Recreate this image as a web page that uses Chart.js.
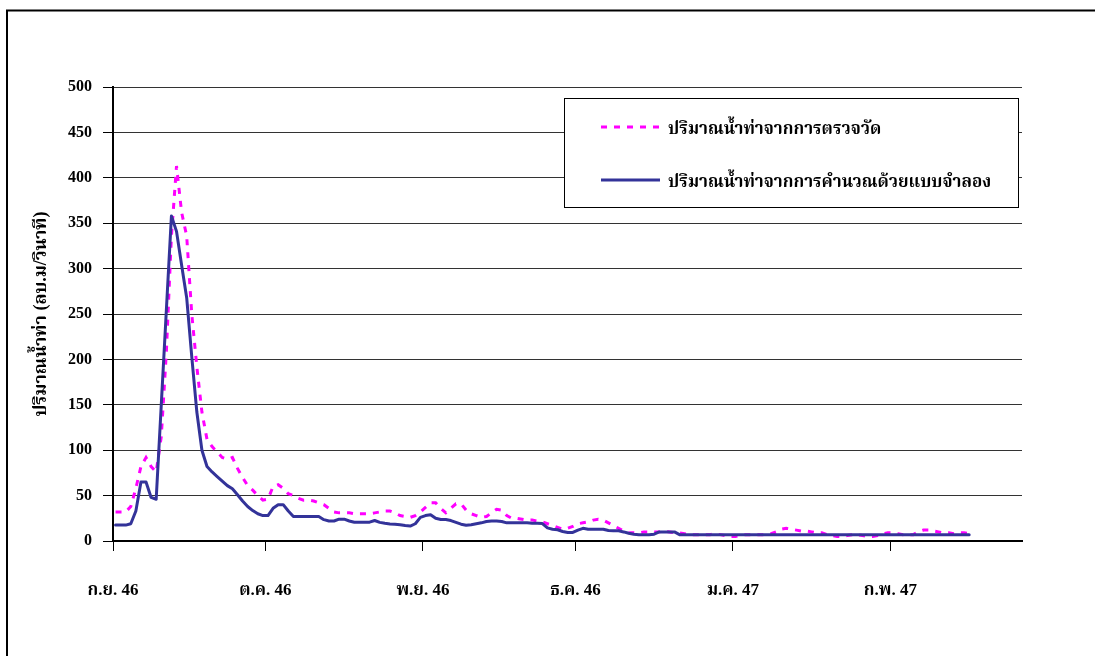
<!DOCTYPE html>
<html>
<head>
<meta charset="utf-8">
<script src="https://cdn.jsdelivr.net/npm/chart.js@4.4.1/dist/chart.umd.min.js"></script>
<style>
  html, body { margin: 0; padding: 0; background: #ffffff; }
  #wrap { width: 1095px; height: 656px; position: relative; }
</style>
</head>
<body>
<div id="wrap"><canvas id="chart" width="1095" height="656"></canvas></div>
<script>
// Month labels and the day index (from 1 Sep 2003) on which each month starts
const monthLabels = ['ก.ย. 46', 'ต.ค. 46', 'พ.ย. 46', 'ธ.ค. 46', 'ม.ค. 47', 'ก.พ. 47'];
const monthStartDay = [0, 30, 61, 91, 122, 153];

// Daily runoff (m3/s), 1 Sep 2003 - 16 Feb 2004
const observed = [
  32, 32, 32, 38, 58, 82, 92, 82, 76, 115,
  208, 336, 413, 362, 336, 250, 192, 142, 112, 104,
  98, 92, 90, 92, 80, 70, 61, 56, 50, 45,
  46, 60, 62, 58, 52, 50, 47, 45, 45, 44,
  42, 40, 36, 32, 31, 31, 31, 30, 30, 30,
  30, 31, 32, 33, 33, 31, 28, 27, 26, 28,
  32, 37, 42, 42, 36, 31, 36, 41, 41, 34,
  30, 28, 26, 27, 31, 35, 34, 28, 25, 25,
  24, 23, 23, 22, 21, 19, 17, 15, 13, 14,
  16, 19, 20, 21, 23, 24, 23, 20, 17, 14,
  11, 9, 9, 9, 10, 10, 10, 10, 11, 10,
  9, 9, 8, 7, 7, 7, 7, 7, 8, 7,
  6, 5, 5, 6, 7, 7, 7, 7, 7, 8,
  10, 13, 14, 13, 12, 11, 11, 10, 9, 9,
  7, 6, 5, 5, 6, 7, 7, 6, 5, 5,
  6, 8, 9, 9, 8, 7, 7, 7, 10, 12,
  12, 11, 10, 9, 9, 8, 9, 9, 8
];
const simulated = [
  17.5, 17.5, 17.5, 19, 33, 65, 65, 48, 46, 150,
  254, 358, 341, 304, 268, 203, 142, 100, 82, 76,
  71, 66, 61, 57.5, 51, 44, 38, 33.5, 30, 28,
  28, 36, 40, 40, 33, 27, 27, 27, 27, 27,
  27, 23.5, 22, 22, 24, 24, 22, 20.7, 20.7, 20.7,
  20.7, 22.6, 20.5, 19.5, 18.8, 18.5, 18, 17, 16.5, 19,
  26, 28, 29, 25, 23.7, 23.7, 22.5, 20.5, 18.5, 17.3,
  18, 19, 20, 21.5, 22, 22, 21.5, 20, 20, 20,
  20, 20, 19.5, 19.5, 19.2, 14.5, 13, 12.4, 10.5, 9.4,
  9.4, 12, 14, 13, 13, 13, 13, 11.6, 11.2, 11.2,
  10, 8.5, 7.5, 7, 7, 7, 7.5, 10, 10, 10,
  10, 7, 7, 7, 7, 7, 7, 7, 7, 7,
  7, 7, 7, 7, 7, 7, 7, 7, 7, 7,
  7, 7, 7, 7, 7, 7, 7, 7, 7, 7,
  7, 7, 7, 7, 7, 7, 7, 7, 7, 7,
  7, 7, 7, 7, 7, 7, 7, 7, 7, 7,
  7, 7, 7, 7, 7, 7, 7, 7, 7
];

const seriesNames = ['ปริมาณน้ำท่าจากการตรวจวัด', 'ปริมาณน้ำท่าจากการคำนวณด้วยแบบจำลอง'];
const yAxisTitle = 'ปริมาณน้ำท่า (ลบ.ม/วินาที)';
const yTicks = [0, 50, 100, 150, 200, 250, 300, 350, 400, 450, 500];

const FONT = '"Liberation Serif", "Noto Serif Thai", "Noto Sans Thai", Norasi, Garuda, Loma, "DejaVu Serif", serif';
Chart.defaults.font.family = FONT;
Chart.defaults.color = '#000';

const toPoints = arr => arr.map((v, i) => ({ x: i, y: v }));

// Outer frame and the boxed legend
const framePlugin = {
  id: 'frameAndLegend',
  afterDraw(chart) {
    const ctx = chart.ctx;
    ctx.save();
    ctx.strokeStyle = '#000';
    ctx.lineWidth = 2;
    ctx.beginPath();
    ctx.moveTo(7, 700);
    ctx.lineTo(7, 10.5);
    ctx.lineTo(1100, 10.5);
    ctx.stroke();

    // legend box
    ctx.fillStyle = '#fff';
    ctx.fillRect(564, 98, 454, 109);
    ctx.lineWidth = 1;
    ctx.strokeRect(564.5, 98.5, 454, 109);

    const rows = [127, 180];
    chart.data.datasets.forEach((ds, i) => {
      const y = rows[i];
      ctx.beginPath();
      ctx.strokeStyle = ds.borderColor;
      ctx.lineWidth = ds.borderWidth;
      ctx.setLineDash(ds.borderDash || []);
      ctx.lineCap = 'butt';
      ctx.moveTo(601, y);
      ctx.lineTo(660, y);
      ctx.stroke();
      ctx.setLineDash([]);
      ctx.fillStyle = '#000';
      ctx.font = 'bold 17px ' + FONT;
      ctx.textBaseline = 'middle';
      ctx.textAlign = 'left';
      ctx.fillText(ds.label, 668, y + 3);
    });
    ctx.restore();
  }
};

new Chart(document.getElementById('chart'), {
  type: 'line',
  data: {
    datasets: [
      {
        label: seriesNames[0],
        data: toPoints(observed),
        borderColor: '#ff00ff',
        borderWidth: 3,
        borderDash: [6, 7],
        borderCapStyle: 'butt',
        pointRadius: 0,
        tension: 0,
        order: 1
      },
      {
        label: seriesNames[1],
        data: toPoints(simulated),
        borderColor: '#333399',
        borderWidth: 3,
        borderJoinStyle: 'round',
        borderCapStyle: 'round',
        pointRadius: 0,
        tension: 0,
        order: 0
      }
    ]
  },
  options: {
    responsive: false,
    animation: false,
    devicePixelRatio: 1,
    layout: { padding: { top: 87, right: 73, left: 0, bottom: 0 } },
    plugins: {
      legend: { display: false },
      tooltip: { enabled: false }
    },
    scales: {
      x: {
        type: 'linear',
        min: -0.5,
        max: 178.4,
        afterBuildTicks: scale => {
          scale.ticks = monthStartDay.map(d => ({ value: d - 0.5 }));
        },
        afterFit: scale => { scale.height = 115; },
        ticks: {
          autoSkip: false,
          maxRotation: 0,
          padding: 29,
          color: '#000',
          font: { size: 17, weight: 'bold' },
          callback: (value, index) => monthLabels[index]
        },
        grid: {
          drawOnChartArea: false,
          drawTicks: true,
          tickLength: 10,
          tickColor: '#000',
          tickWidth: 1
        },
        border: { display: true, color: '#000', width: 2 }
      },
      y: {
        min: 0,
        max: 500,
        afterBuildTicks: scale => {
          scale.ticks = yTicks.map(v => ({ value: v }));
        },
        afterFit: scale => { scale.width = 113; },
        ticks: {
          padding: 11,
          color: '#000',
          font: { size: 16, weight: 'bold' }
        },
        grid: {
          color: '#333',
          lineWidth: 1,
          drawTicks: true,
          tickLength: 10,
          tickColor: '#000',
          tickWidth: 1
        },
        border: { display: true, color: '#000', width: 2 },
        title: {
          display: true,
          text: yAxisTitle,
          color: '#000',
          font: { size: 18, weight: 'bold' },
          padding: { top: 31, bottom: 0 }
        }
      }
    }
  },
  plugins: [framePlugin]
});
</script>
</body>
</html>
